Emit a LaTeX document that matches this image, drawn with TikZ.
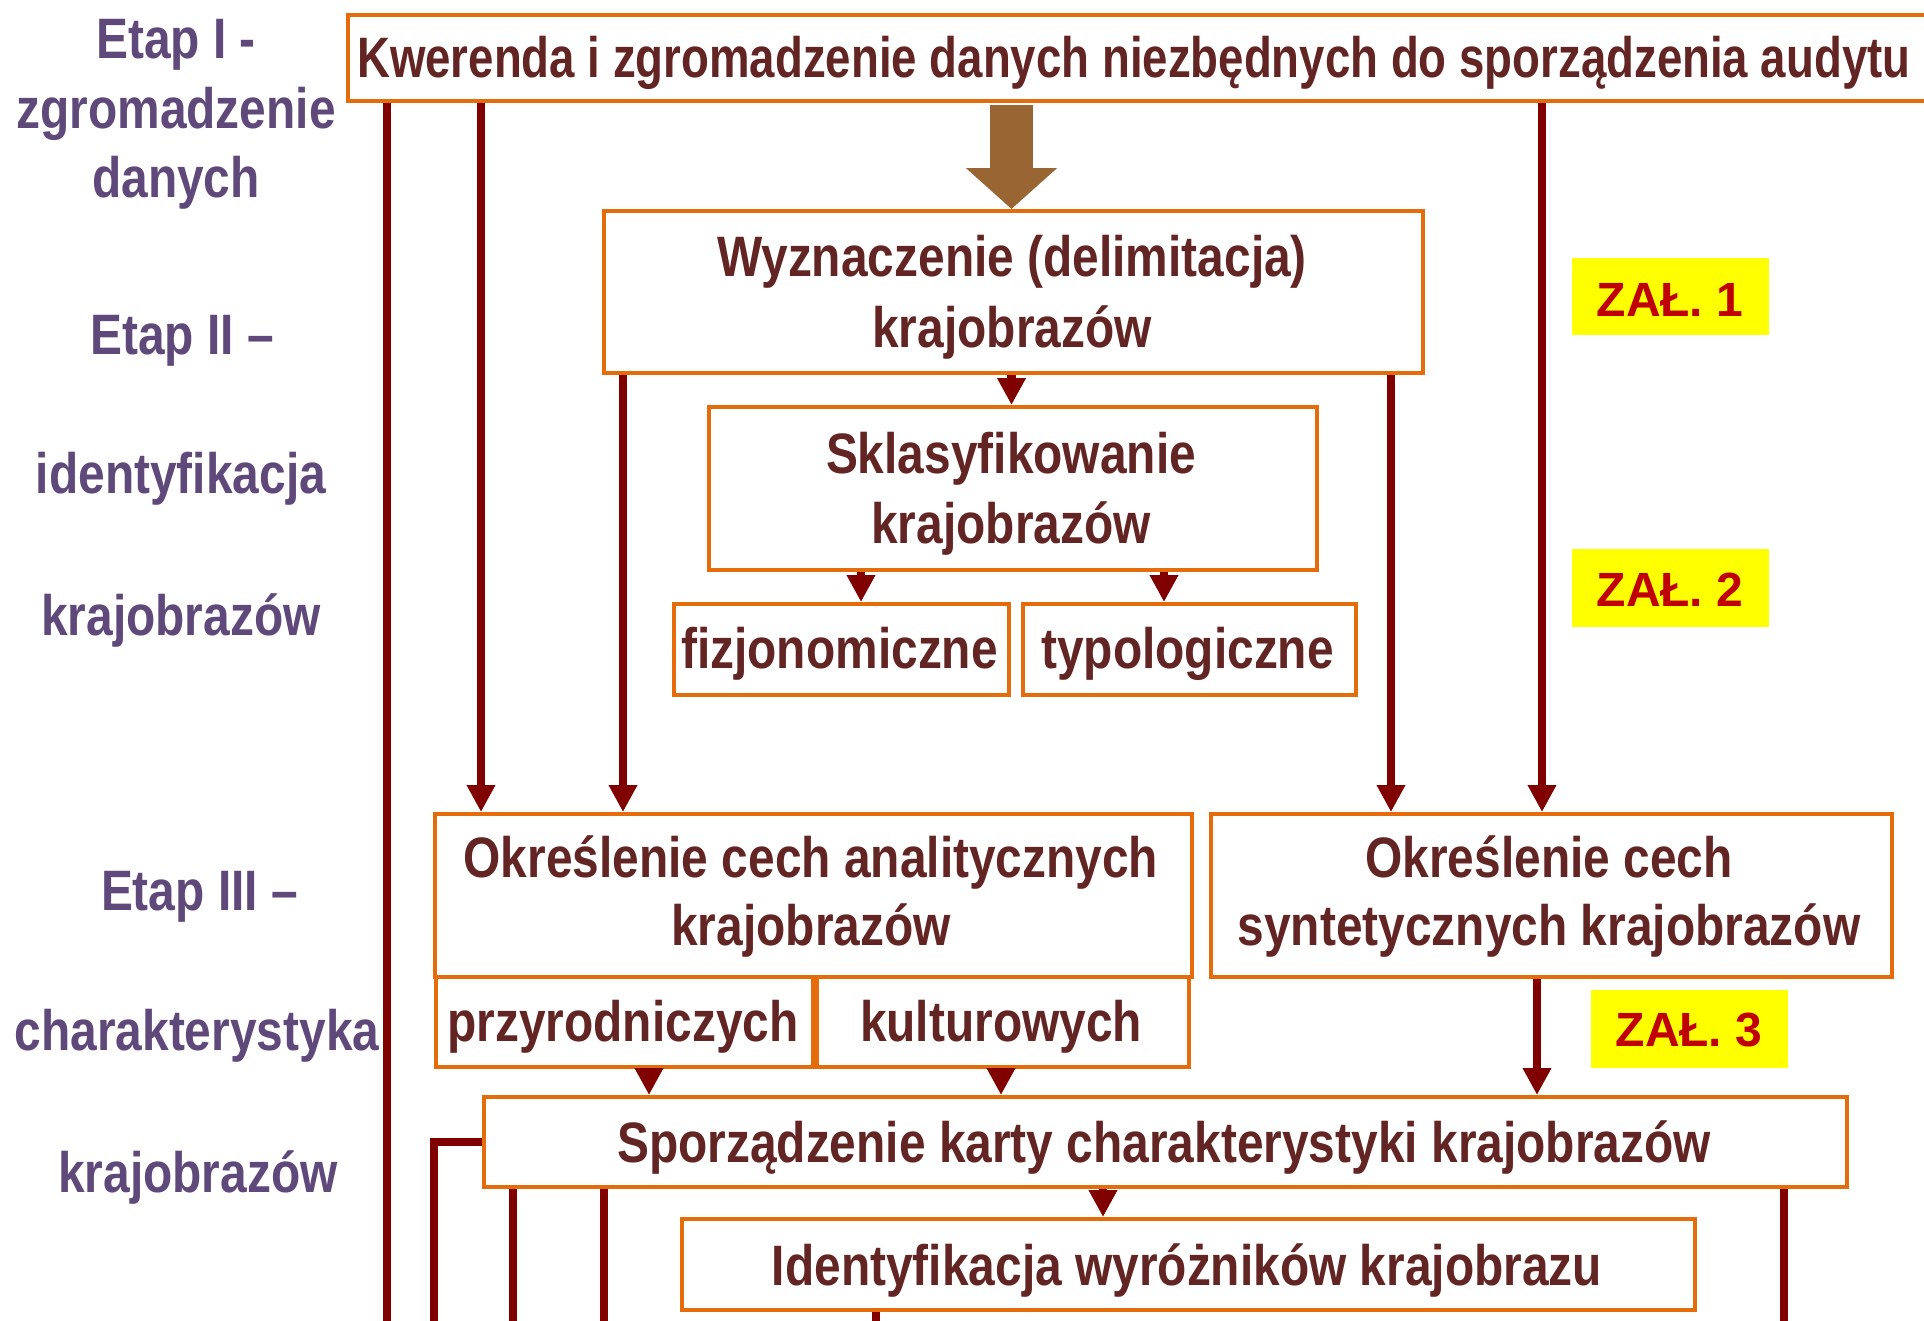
\documentclass[tikz,border=0pt]{standalone}
\usepackage{fontspec}
\setmainfont{Liberation Sans}
\newfontfamily\narrowfont{Liberation Sans}[FakeStretch=0.84]
\newfontfamily\narrowtopfont{Liberation Sans}[FakeStretch=0.80]
\usetikzlibrary{arrows.meta,calc}
\definecolor{boxorange}{HTML}{E46C0A}
\definecolor{txtbrown}{HTML}{632523}
\definecolor{lblpurple}{HTML}{5F497A}
\definecolor{linered}{HTML}{800000}
\definecolor{bigbrown}{HTML}{996633}
\definecolor{zalred}{HTML}{C00000}
\definecolor{zalyellow}{HTML}{FFFF00}
\begin{document}
\begin{tikzpicture}[x=1pt,y=-1pt,
  box/.style={draw=boxorange, line width=4pt, fill=white, rectangle, inner sep=0pt, anchor=north west},
  btxt/.style={text=txtbrown, font=\narrowfont\bfseries\fontsize{57}{68}\selectfont, inner sep=0pt, anchor=base},
  lbl/.style={text=lblpurple, font=\narrowfont\bfseries\fontsize{57}{68}\selectfont, inner sep=0pt, anchor=base},
  zal/.style={fill=zalyellow, inner sep=0pt, anchor=north west},
  zaltxt/.style={text=zalred, font=\bfseries\fontsize{48}{58}\selectfont, inner sep=0pt, anchor=base},
  conn/.style={draw=linered, line width=8.5pt},
  arr/.style={conn, -{Triangle[length=27pt,width=27pt]}},
  bigarr/.style={draw=bigbrown, line width=43pt, -{Triangle[length=41pt,width=89pt]}}
]
\useasboundingbox (0,0) rectangle (1924,1320);
\clip (0,0) rectangle (1924,1320);
\fill[white] (0,0) rectangle (1924,1320);

% left stage labels
\node[lbl] (l1) at (176,58) {Etap I -};
\node[lbl] (l2) at (176,128) {zgromadzenie};
\node[lbl] (l3) at (176,197) {danych};
\node[lbl] (l4) at (182,354) {Etap II –};
\node[lbl] (l5) at (181,493) {identyfikacja};
\node[lbl] (l6) at (181,635) {krajobrazów};
\node[lbl] (l7) at (199.5,910) {Etap III –};
\node[lbl] (l8) at (197,1050) {charakterystyka};
\node[lbl] (l9) at (198,1192) {krajobrazów};

% boxes
\node[box, minimum width=1594pt, minimum height=86pt] (A) at (346,13) {};
\node[box, minimum width=819pt, minimum height=162pt] (B) at (602,209) {};
\node[box, minimum width=608pt, minimum height=163pt] (C) at (707,405) {};
\node[box, minimum width=335pt, minimum height=91pt] (D) at (672,602) {};
\node[box, minimum width=333pt, minimum height=91pt] (E) at (1021,602) {};
\node[box, minimum width=757pt, minimum height=163pt] (F) at (433,812) {};
\node[box, minimum width=681pt, minimum height=163pt] (G) at (1209,812) {};
\node[box, minimum width=377pt, minimum height=90pt] (H) at (434,975) {};
\node[box, minimum width=372pt, minimum height=90pt] (I) at (815,975) {};
\node[box, minimum width=1363pt, minimum height=90pt] (J) at (482,1095) {};
\node[box, minimum width=1013pt, minimum height=91pt] (K) at (680,1217) {};

% box texts
\node[btxt, anchor=base west, font=\narrowtopfont\bfseries\fontsize{57}{68}\selectfont] (At) at (357,77) {Kwerenda i zgromadzenie danych niezbędnych do sporządzenia audytu};
\node[btxt] (Bt1) at (1012,276) {Wyznaczenie (delimitacja)};
\node[btxt] (Bt2) at (1012,347) {krajobrazów};
\node[btxt] (Ct1) at (1011,473) {Sklasyfikowanie};
\node[btxt] (Ct2) at (1011,543) {krajobrazów};
\node[btxt] (Dt) at (839.5,668) {fizjonomiczne};
\node[btxt] (Et) at (1187.5,668) {typologiczne};
\node[btxt] (Ft1) at (811,877) {Określenie cech analitycznych};
\node[btxt] (Ft2) at (811,945) {krajobrazów};
\node[btxt] (Gt1) at (1549,877) {Określenie cech};
\node[btxt] (Gt2) at (1549,945) {syntetycznych krajobrazów};
\node[btxt] (Ht) at (623,1041) {przyrodniczych};
\node[btxt] (It) at (1001,1041) {kulturowych};
\node[btxt] (Jt) at (1164,1162) {Sporządzenie karty charakterystyki krajobrazów};
\node[btxt] (Kt) at (1187,1285) {Identyfikacja wyróżników krajobrazu};

% annex labels
\node[zal, minimum width=197pt, minimum height=77pt] (Z1) at (1572,258) {};
\node[zal, minimum width=197pt, minimum height=78pt] (Z2) at (1572,549) {};
\node[zal, minimum width=197pt, minimum height=78pt] (Z3) at (1591,990) {};
\node[zaltxt] (Z1t) at (1670,316) {ZAŁ. 1};
\node[zaltxt] (Z2t) at (1670,606) {ZAŁ. 2};
\node[zaltxt] (Z3t) at (1689,1046) {ZAŁ. 3};

% x positions of connectors
\coordinate (bot) at (0,1335);
\coordinate (x387) at (387,0);
\coordinate (x434) at (434,0);
\coordinate (x481) at (481,0);
\coordinate (x513) at (513,0);
\coordinate (x604) at (604,0);
\coordinate (x623) at (623,0);
\coordinate (x649) at (649,0);
\coordinate (x861) at (861,0);
\coordinate (x876) at (876,0);
\coordinate (x1001) at (1001,0);
\coordinate (xbig) at (1011.5,0);
\coordinate (x1103) at (1103,0);
\coordinate (x1164) at (1164,0);
\coordinate (x1391) at (1391,0);
\coordinate (x1537) at (1537,0);
\coordinate (x1542) at (1542,0);
\coordinate (x1784) at (1784,0);

% connectors
\draw[conn] (x387 |- A.south) -- (x387 |- bot);
\draw[arr] (x481 |- A.south) -- (x481 |- F.north);
\draw[arr] (x1542 |- A.south) -- (x1542 |- G.north);
\draw[bigarr] ($(xbig |- A.south)+(0,2)$) -- (xbig |- B.north);
\draw[arr] (xbig |- B.south) -- (xbig |- C.north);
\draw[arr] (x623 |- B.south) -- (x623 |- F.north);
\draw[arr] (x1391 |- B.south) -- (x1391 |- G.north);
\draw[arr] (x861 |- C.south) -- (x861 |- D.north);
\draw[arr] (x1164 |- C.south) -- (x1164 |- E.north);
\draw[arr] (x649 |- H.south) -- (x649 |- J.north);
\draw[arr] (x1001 |- I.south) -- (x1001 |- J.north);
\draw[arr] (x1537 |- G.south) -- (x1537 |- J.north);
\draw[arr] (x1103 |- J.south) -- (x1103 |- K.north);
\draw[conn] (J.west) -| (x434 |- bot);
\draw[conn] (x513 |- J.south) -- (x513 |- bot);
\draw[conn] (x604 |- J.south) -- (x604 |- bot);
\draw[conn] (x1784 |- J.south) -- (x1784 |- bot);
\draw[conn] (x876 |- K.south) -- (x876 |- bot);
\end{tikzpicture}
\end{document}
